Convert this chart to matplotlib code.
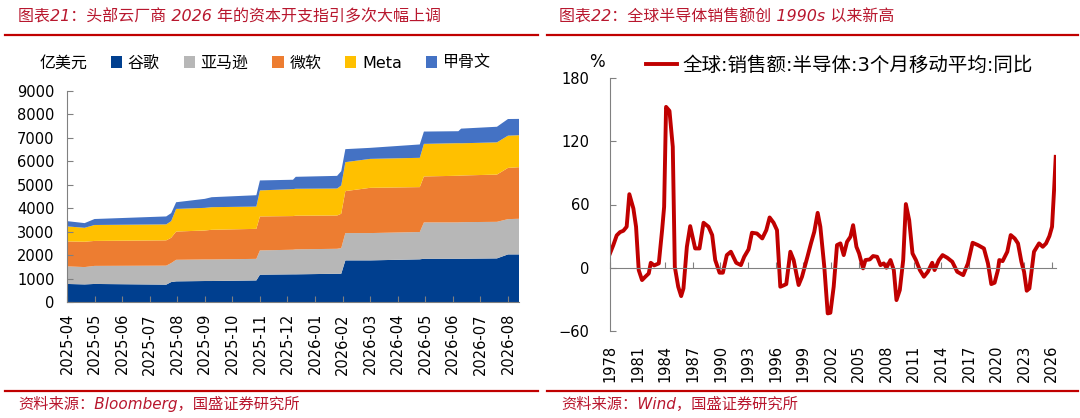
import numpy as np
import matplotlib.pyplot as plt
from matplotlib.lines import Line2D

plt.rcParams['font.family'] = ['DejaVu Sans', 'Noto Sans CJK SC']

# ---- left chart: capex guidance (100m USD), stacked ----
month_labels = ['2025-04', '2025-05', '2025-06', '2025-07', '2025-08', '2025-09',
                '2025-10', '2025-11', '2025-12', '2026-01', '2026-02', '2026-03',
                '2026-04', '2026-05', '2026-06', '2026-07', '2026-08']
# position in months after 2025-04
months = [0, 0.64, 1.0, 3.6, 3.78, 3.96, 5.0, 5.25, 6.87, 7.0, 8.2, 8.3,
          9.8, 9.95, 10.1, 11.0, 12.8, 12.95, 14.2, 14.3, 15.6, 16.0, 16.4]
google = [770, 750, 770, 740, 850, 880, 895, 895, 920, 1165, 1180, 1180,
          1205, 1205, 1775, 1775, 1820, 1845, 1845, 1845, 1860, 2030, 2030]
amazon = [750, 740, 770, 810, 810, 920, 920, 920, 920, 1035, 1050, 1065,
          1065, 1095, 1165, 1165, 1165, 1550, 1550, 1560, 1560, 1505, 1520]
msft = [1065, 1080, 1065, 1080, 1080, 1205, 1235, 1265, 1280, 1450, 1435, 1435,
        1420, 1465, 1790, 1930, 1915, 1960, 1990, 1990, 2015, 2185, 2200]
meta = [640, 595, 680, 680, 710, 965, 965, 965, 950, 1110, 1150, 1150,
        1150, 1205, 1235, 1235, 1250, 1390, 1390, 1375, 1375, 1375, 1365]
oracle = [225, 200, 255, 340, 340, 285, 385, 425, 485, 425, 400, 510,
          540, 610, 555, 470, 570, 525, 510, 625, 665, 710, 695]
names = ['谷歌', '亚马逊', '微软', 'Meta', '甲骨文']
colors = ['#003F8F', '#B7B7B7', '#ED7D31', '#FFC000', '#4472C4']

# ---- right chart: global semiconductor sales, 3mma yoy (%) ----
years = [1978.00, 1978.36, 1978.73, 1979.09, 1979.45, 1979.81, 1980.10, 1980.54,
         1980.83, 1981.12, 1981.48, 1981.84, 1982.21, 1982.43, 1982.79, 1983.30,
         1983.66, 1983.88, 1984.09, 1984.46, 1984.82, 1985.04, 1985.41, 1985.73,
         1985.98, 1986.35, 1986.71, 1987.25, 1987.72, 1988.16, 1988.70, 1989.10,
         1989.43, 1989.90, 1990.26, 1990.69, 1991.13, 1991.71, 1992.22, 1992.58,
         1993.05, 1993.42, 1993.96, 1994.54, 1994.98, 1995.34, 1995.77, 1996.14,
         1996.50, 1996.86, 1997.15, 1997.59, 1997.95, 1998.49, 1998.86, 1999.47,
         1999.83, 2000.19, 2000.56, 2000.85, 2001.28, 2001.65, 2001.94, 2002.30,
         2002.66, 2003.03, 2003.39, 2003.75, 2004.12, 2004.41, 2004.77, 2005.06,
         2005.49, 2005.75, 2006.22, 2006.58, 2007.02, 2007.38, 2007.74, 2008.03,
         2008.47, 2008.83, 2009.12, 2009.48, 2009.85, 2010.14, 2010.50, 2010.86,
         2011.23, 2011.66, 2012.10, 2012.53, 2013.00, 2013.26, 2013.73, 2014.13,
         2014.63, 2015.18, 2015.72, 2016.37, 2016.88, 2017.39, 2017.97, 2018.62,
         2019.06, 2019.42, 2019.78, 2020.14, 2020.29, 2020.65, 2021.16, 2021.53,
         2021.96, 2022.32, 2022.69, 2022.98, 2023.27, 2023.56, 2024.06, 2024.61,
         2025.01, 2025.37, 2025.73, 2026.02, 2026.24, 2026.42]
yoy = [13.6, 21.5, 30.7, 33.8, 35.1, 38.9, 69.8, 56.2,
       38.9, -2.2, -11.7, -8.5, -5.4, 4.7, 2.2, 4.1,
       35.7, 57.8, 152.6, 148.8, 114.7, 0.9, -18.0, -26.9,
       -19.6, 19.9, 39.5, 18.3, 18.3, 42.7, 38.9, 31.0,
       7.3, -4.7, -4.7, 12.0, 15.2, 4.7, 2.5, 10.4,
       17.4, 33.2, 32.5, 27.8, 35.7, 47.7, 42.7, 35.7,
       -18.0, -16.7, -15.5, 15.2, 7.3, -16.4, -8.5, 11.1,
       23.1, 34.1, 52.1, 38.9, 0.9, -43.3, -42.7, -18.0,
       21.5, 23.1, 12.0, 24.6, 29.4, 40.4, 19.9, 13.6,
       -0.6, 7.3, 7.9, 11.1, 10.4, 2.5, 4.1, 0.0,
       7.3, -2.2, -30.7, -21.2, 7.3, 60.4, 45.2, 13.6,
       7.3, -2.2, -8.5, -3.8, 4.7, -2.2, 7.3, 12.0,
       9.5, 5.7, -3.8, -7.0, 4.1, 23.7, 21.5, 18.3,
       4.1, -15.5, -14.2, -2.2, 7.3, 6.3, 15.2, 31.0,
       27.8, 23.1, 5.7, -3.8, -21.8, -19.6, 15.2, 23.1,
       19.9, 23.1, 30.0, 38.9, 73.6, 105.2]
year_ticks = list(range(1978, 2027, 3))
line_label = '全球:销售额:半导体:3个月移动平均:同比'

red = '#B8172E'
axis_gray = '#808080'
W, H = 1080, 418

fig = plt.figure(figsize=(10.8, 4.18), dpi=100)


def fx(px):
    return px / W


def fy(py):
    return 1 - py / H


# titles, rules and sources
fig.text(fx(18), fy(17), '图表21：头部云厂商 2026 年的资本开支指引多次大幅上调',
         color=red, fontsize=11.5, style='italic', va='center')
fig.text(fx(559), fy(17), '图表22：全球半导体销售额创 1990s 以来新高',
         color=red, fontsize=11.5, style='italic', va='center')
fig.text(fx(18), fy(404), '资料来源：Bloomberg，国盛证券研究所',
         color=red, fontsize=11, style='italic', va='center')
fig.text(fx(561), fy(404), '资料来源：Wind，国盛证券研究所',
         color=red, fontsize=11, style='italic', va='center')
for x0, x1 in [(5, 538), (547, 1078)]:
    for yy in [35, 391]:
        fig.add_artist(Line2D([fx(x0), fx(x1)], [fy(yy), fy(yy)],
                              color='#C00000', lw=1.6, transform=fig.transFigure))

# left chart
ax1 = fig.add_axes([fx(67), fy(302), fx(519 - 67), (302 - 91) / H])
ax1.stackplot(months, google, amazon, msft, meta, oracle,
              colors=colors, labels=names, linewidth=0)
ax1.set_xlim(0, 16.4)
ax1.set_ylim(0, 9000)
ax1.set_xticks(range(len(month_labels)))
ax1.set_xticklabels(month_labels, rotation=90)
ax1.set_yticks(range(0, 9001, 1000))
ax1.tick_params(axis='both', direction='in', length=4, color=axis_gray, labelsize=10.5)
ax1.tick_params(axis='y', pad=9)
ax1.tick_params(axis='x', pad=8)
for s in ['top', 'right']:
    ax1.spines[s].set_visible(False)
for s in ['left', 'bottom']:
    ax1.spines[s].set_color(axis_gray)
fig.text(fx(40), fy(63), '亿美元', fontsize=11.5, va='center')
ax1.legend(loc='center left', bbox_to_anchor=(fx(111), fy(63)),
           bbox_transform=fig.transFigure, ncol=5, frameon=False, fontsize=11.5,
           handlelength=0.7, handleheight=0.7, handletextpad=0.35,
           columnspacing=1.5, borderpad=0, borderaxespad=0)

# right chart
ax2 = fig.add_axes([fx(610), fy(331), fx(1056 - 610), (331 - 78) / H])
ax2.plot(years, yoy, color='#C00000', lw=2.8, label=line_label)
ax2.set_xlim(1978, 2026.45)
ax2.set_ylim(-60, 180)
ax2.set_yticks([-60, 0, 60, 120, 180])
ax2.spines['bottom'].set_position(('data', 0))
ax2.spines['bottom'].set_color(axis_gray)
ax2.spines['left'].set_color(axis_gray)
for s in ['top', 'right']:
    ax2.spines[s].set_visible(False)
ax2.set_xticks(year_ticks)
ax2.tick_params(axis='x', direction='in', length=4, color=axis_gray, labelbottom=False)
ax2.tick_params(axis='y', direction='in', length=4, color=axis_gray, labelsize=10.5, pad=15)
sec = ax2.secondary_xaxis('bottom')
sec.set_xticks(year_ticks)
sec.tick_params(length=0, labelsize=10.5, labelrotation=90, pad=10)
sec.spines['bottom'].set_visible(False)
fig.text(fx(597), fy(62), '%', fontsize=12, va='center', ha='center')
ax2.legend(loc='center left', bbox_to_anchor=(fx(646), fy(65)),
           bbox_transform=fig.transFigure, frameon=False, fontsize=14,
           handlelength=1.6, handletextpad=0.3, borderpad=0, borderaxespad=0)

fig.savefig('out.png', dpi=100)
